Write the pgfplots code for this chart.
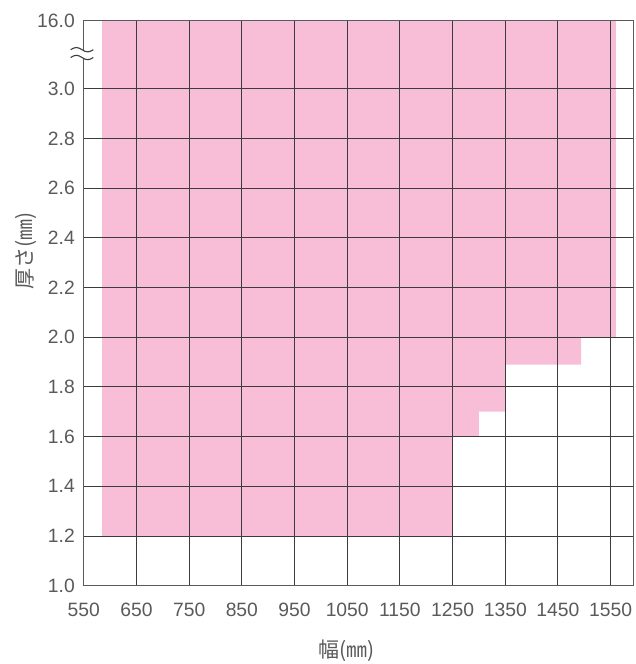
\documentclass[border=0pt]{standalone}
\usepackage{pgfplots}
\pgfplotsset{compat=1.18}
\usepackage{fontspec}
\setmainfont{Liberation Sans}
\newfontfamily\jp{Noto Sans CJK JP}
\definecolor{pinkfill}{HTML}{F8BED7}
\definecolor{gridc}{HTML}{3C3C3C}
\definecolor{axc}{HTML}{5A5A5A}
\definecolor{labc}{HTML}{5A5A5A}
\begin{document}
\begin{tikzpicture}
\useasboundingbox (-83.8pt,-78.3pt) rectangle (552.2pt,585.7pt);
\begin{axis}[
  at={(0pt,0pt)}, anchor=south west,
  scale only axis, width=549.5pt, height=565pt,
  xmin=550, xmax=1593, ymin=1.0, ymax=3.2736,
  xtick={550,650,750,850,950,1050,1150,1250,1350,1450,1550},
  xticklabels={550,650,750,850,950,1050,1150,1250,1350,1450,1550},
  ytick={1.0,1.2,1.4,1.6,1.8,2.0,2.2,2.4,2.6,2.8,3.0,3.2736},
  yticklabels={1.0,1.2,1.4,1.6,1.8,2.0,2.2,2.4,2.6,2.8,3.0,16.0},
  grid=major,
  major grid style={draw=gridc, line width=1.0pt},
  major tick length=0pt,
  axis on top,
  axis line style={draw=axc, line width=1.3pt},
  /pgf/number format/assume math mode=true,
  tick label style={font=\fontsize{19.3}{21}\selectfont, text=labc},
  yticklabel style={inner sep=0pt, anchor=east, xshift=-8.8pt},
  xticklabel style={inner sep=0pt, anchor=north, yshift=-17.3pt},
  xlabel={\jp 幅(㎜)},
  ylabel={\jp 厚さ(㎜)},
  label style={font=\fontsize{21}{23}\selectfont, text=labc},
  xlabel style={at={(axis description cs:0.4784,-0.1147)}, anchor=center},
  ylabel style={at={(axis description cs:-0.1046,0.5924)}, anchor=center},
]
\addplot[draw=none, fill=pinkfill] coordinates {
  (585,1.2) (585,3.2736) (1560,3.2736) (1560,2.0) (1494,2.0) (1494,1.89)
  (1350,1.89) (1350,1.70) (1300,1.70) (1300,1.6) (1250,1.6) (1250,1.2)
} -- cycle;
\end{axis}
\fill[white] (-2pt,527.1pt) rectangle (2pt,534.9pt);
\draw[gridc, line width=1.1pt] (-13.1pt,536pt) sin (-7.45pt,538.2pt) cos (-1.8pt,536pt) sin (3.85pt,533.8pt) cos (9.5pt,536pt);
\draw[gridc, line width=1.1pt] (-13.1pt,528.2pt) sin (-7.45pt,530.4pt) cos (-1.8pt,528.2pt) sin (3.85pt,526pt) cos (9.5pt,528.2pt);
\end{tikzpicture}
\end{document}
